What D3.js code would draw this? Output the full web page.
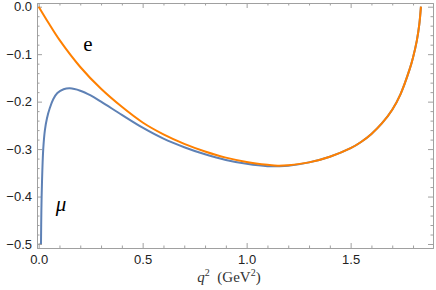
<!DOCTYPE html>
<html>
<head>
<meta charset="utf-8">
<script src="https://cdn.jsdelivr.net/npm/d3@7"></script>
<style>
  body { margin: 0; background: #fff; }
  .tick text { font-family: "Liberation Sans", Arial, sans-serif; font-size: 13px; fill: #222; }
</style>
</head>
<body>
<div id="chart"></div>
<script>
// electron curve (q^2 in GeV^2, value)
const eQ2 = [0, 0.05, 0.1, 0.2, 0.3, 0.4, 0.5, 0.6, 0.7, 0.8, 0.9, 1.0, 1.1, 1.15, 1.2, 1.3, 1.4, 1.5, 1.55, 1.6, 1.65, 1.7, 1.74, 1.785, 1.8, 1.818, 1.83, 1.838];
const eVal = [0, -0.036, -0.070, -0.127, -0.173, -0.211, -0.244, -0.269, -0.289, -0.305, -0.318, -0.327, -0.333, -0.335, -0.334, -0.328, -0.316, -0.298, -0.285, -0.268, -0.246, -0.217, -0.184, -0.130, -0.107, -0.072, -0.038, 0];

// muon curve
const muQ2 = [0.0112, 0.013, 0.016, 0.022, 0.03, 0.04, 0.054, 0.07, 0.09, 0.12, 0.15, 0.2, 0.25, 0.3, 0.4, 0.5, 0.6, 0.7, 0.8, 0.9, 1.0, 1.1, 1.15, 1.2, 1.3, 1.4, 1.5, 1.55, 1.6, 1.65, 1.7, 1.74, 1.785, 1.8, 1.818, 1.83, 1.838];
const muVal = [-0.50, -0.43, -0.37, -0.30, -0.26, -0.235, -0.213, -0.195, -0.182, -0.174, -0.172, -0.177, -0.187, -0.200, -0.228, -0.255, -0.278, -0.296, -0.311, -0.323, -0.331, -0.336, -0.336, -0.335, -0.328, -0.316, -0.298, -0.285, -0.268, -0.246, -0.217, -0.184, -0.130, -0.107, -0.072, -0.038, 0];

const xTicks = [0, 0.5, 1.0, 1.5];
const yTicks = [0, -0.1, -0.2, -0.3, -0.4, -0.5];

const width = 436, height = 290;
const x = d3.scaleLinear().domain([-0.008, 1.896]).range([37, 433]);
const y = d3.scaleLinear().domain([-0.5084, 0.0078]).range([248, 3]);

const svg = d3.select('#chart').append('svg')
    .attr('width', width)
    .attr('height', height);

const fmt = d => d === 0 ? '0.0' : d3.format('.1f')(d).replace('-', '\u2212');

// minor ticks
const xMinor = d3.range(0, 1.9, 0.1).filter(v => Math.abs(v * 2 - Math.round(v * 2)) > 1e-6);
const yMinor = d3.range(0, -0.52, -0.02).filter(v => Math.abs(v * 10 - Math.round(v * 10)) > 1e-6);

function frameAxis(axis, tr) {
    svg.append('g').attr('class', 'frame').attr('transform', tr).call(axis);
}

// bottom
frameAxis(d3.axisBottom(x).tickValues(xTicks).tickFormat(fmt).tickSizeInner(-5).tickSizeOuter(0).tickPadding(7), `translate(0,${y.range()[0]})`);
frameAxis(d3.axisBottom(x).tickValues(xMinor).tickFormat('').tickSizeInner(-2.5).tickSizeOuter(0), `translate(0,${y.range()[0]})`);
// top
frameAxis(d3.axisTop(x).tickValues(xTicks).tickFormat('').tickSizeInner(-5).tickSizeOuter(0), `translate(0,${y.range()[1]})`);
frameAxis(d3.axisTop(x).tickValues(xMinor).tickFormat('').tickSizeInner(-2.5).tickSizeOuter(0), `translate(0,${y.range()[1]})`);
// left
frameAxis(d3.axisLeft(y).tickValues(yTicks).tickFormat(fmt).tickSizeInner(-5).tickSizeOuter(0).tickPadding(5), `translate(${x.range()[0]},0)`);
frameAxis(d3.axisLeft(y).tickValues(yMinor).tickFormat('').tickSizeInner(-2.5).tickSizeOuter(0), `translate(${x.range()[0]},0)`);
// right
frameAxis(d3.axisRight(y).tickValues(yTicks).tickFormat('').tickSizeInner(-5).tickSizeOuter(0), `translate(${x.range()[1]},0)`);
frameAxis(d3.axisRight(y).tickValues(yMinor).tickFormat('').tickSizeInner(-2.5).tickSizeOuter(0), `translate(${x.range()[1]},0)`);

svg.selectAll('.frame .domain').attr('stroke', '#a0a0a0');
svg.selectAll('.frame .tick line').attr('stroke', '#a0a0a0');

const line = d3.line()
    .x(d => x(d[0]))
    .y(d => y(d[1]))
    .curve(d3.curveCatmullRom.alpha(0.5));

svg.append('path')
    .datum(d3.zip(muQ2, muVal))
    .attr('fill', 'none')
    .attr('stroke', '#5e81b5')
    .attr('stroke-width', 2)
    .attr('d', line);

svg.append('path')
    .datum(d3.zip(eQ2, eVal))
    .attr('fill', 'none')
    .attr('stroke', '#ff8000')
    .attr('stroke-width', 2)
    .attr('d', line);

// curve labels
svg.append('text')
    .attr('x', 88).attr('y', 51)
    .attr('text-anchor', 'middle')
    .style('font-family', '"Liberation Serif", "Times New Roman", serif')
    .style('font-size', '21px')
    .text('e');

svg.append('text')
    .attr('x', 61).attr('y', 211)
    .attr('text-anchor', 'middle')
    .style('font-family', '"Liberation Serif", "Times New Roman", serif')
    .style('font-style', 'italic')
    .style('font-size', '21px')
    .text('\u03bc');

// x axis title
const xt = svg.append('text')
    .attr('x', 229).attr('y', 282)
    .attr('text-anchor', 'middle')
    .style('font-family', '"Liberation Serif", "Times New Roman", serif')
    .style('font-size', '15px')
    .attr('fill', '#333');
xt.append('tspan').style('font-style', 'italic').text('q');
xt.append('tspan').attr('dy', -6).style('font-size', '10px').text('2');
xt.append('tspan').attr('dy', 6).text('\u00a0\u00a0(GeV');
xt.append('tspan').attr('dy', -6).style('font-size', '10px').text('2');
xt.append('tspan').attr('dy', 6).text(')');
</script>
</body>
</html>
